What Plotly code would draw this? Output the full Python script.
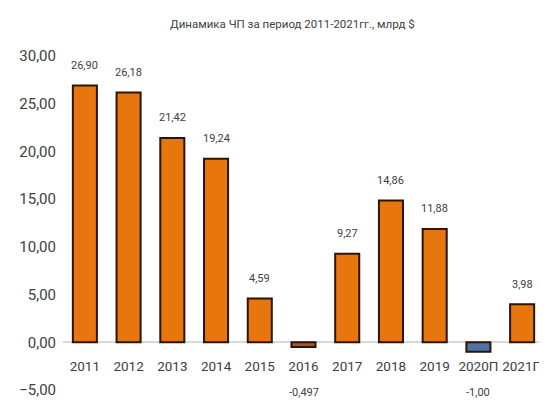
import plotly.graph_objects as go

# данные: чистая прибыль, млрд $
years = ['2011', '2012', '2013', '2014', '2015', '2016', '2017', '2018', '2019', '2020П', '2021П']
np_values = [26.90, 26.18, 21.42, 19.24, 4.59, -0.497, 9.27, 14.86, 11.88, -1.00, 3.98]
np_labels = ['26,90', '26,18', '21,42', '19,24', '4,59', '-0,497', '9,27', '14,86', '11,88', '-1,00', '3,98']

orange = '#E8760E'
bar_colors = [orange] * 11
bar_colors[5] = '#9C5B2B'
bar_colors[9] = '#4D72A8'

font_name = 'Roboto'
text_color = '#404040'

fig = go.Figure(go.Bar(
    x=years,
    y=np_values,
    marker=dict(color=bar_colors, line=dict(color='#2B1400', width=2)),
    width=0.55,
))

# подписи значений (x по индексу категории)
for i, (val, lab) in enumerate(zip(np_values, np_labels)):
    if val >= 0:
        fig.add_annotation(x=i, y=val, text=lab, showarrow=False, yshift=20,
                           font=dict(size=11, color=text_color, family=font_name))
    else:
        fig.add_annotation(x=i, y=-5, text=lab, showarrow=False, yshift=-2,
                           font=dict(size=11, color=text_color, family=font_name))

fig.update_layout(
    width=547, height=417,
    margin=dict(l=52, r=11, t=48, b=35),
    paper_bgcolor='white', plot_bgcolor='white',
    separators=', ',
    showlegend=False,
    title=dict(text='Динамика ЧП за период 2011-2021гг., млрд $', x=0.52, xanchor='center',
               y=0.962, yanchor='middle',
               font=dict(size=11.5, color=text_color, family=font_name)),
    font=dict(family=font_name, color=text_color),
)
fig.update_yaxes(range=[-5, 30], dtick=5, tickformat='.2f', showgrid=False,
                 zeroline=True, zerolinecolor='#D9D9D9', zerolinewidth=2,
                 tickfont=dict(size=15, color=text_color, family=font_name),
                 ticklabelstandoff=6)
fig.update_xaxes(type='category', range=[-0.5, 10.5], anchor='free', position=48 / 334,
                 showline=False, showgrid=False, ticklabelstandoff=14, tickangle=0,
                 tickfont=dict(size=13.5, color=text_color, family=font_name))

fig.write_html("out.html")
